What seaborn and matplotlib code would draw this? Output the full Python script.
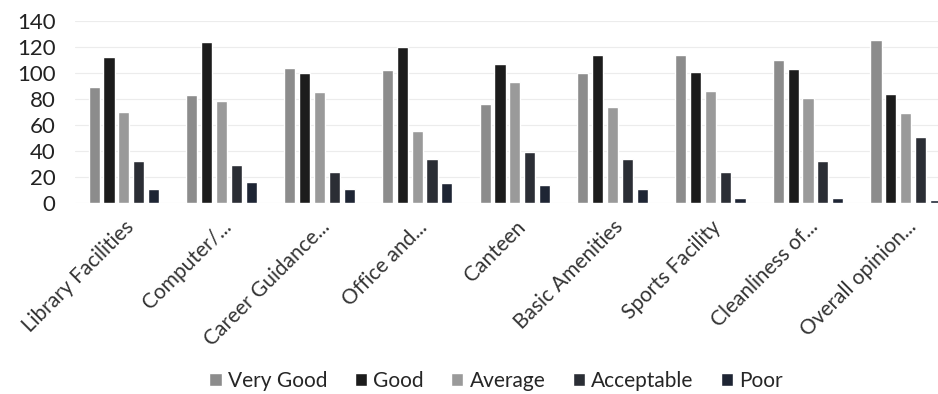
import pandas as pd
import matplotlib.pyplot as plt
import seaborn as sns

# 数据
categories = ['Library Facilities', 'Computer/...', 'Career Guidance...', 'Office and...',
              'Canteen', 'Basic Amenities', 'Sports Facility', 'Cleanliness of...',
              'Overall opinion...']
very_good = [89, 83, 104, 102, 76, 100, 114, 110, 125]
good = [112, 124, 100, 120, 107, 114, 101, 103, 84]
average = [70, 78, 85, 55, 93, 74, 86, 81, 69]
acceptable = [32, 29, 24, 34, 39, 34, 24, 32, 51]
poor = [11, 16, 11, 15, 14, 11, 4, 4, 2]
series_names = ['Very Good', 'Good', 'Average', 'Acceptable', 'Poor']

df = pd.DataFrame({'Very Good': very_good, 'Good': good, 'Average': average,
                   'Acceptable': acceptable, 'Poor': poor}, index=categories)
long_df = df.reset_index().melt(id_vars='index', var_name='Rating', value_name='Count')
long_df = long_df.rename(columns={'index': 'Item'})

sns.set_style('white')
plt.rcParams['font.family'] = ['Lato', 'DejaVu Sans']

palette = ['#8c8c8c', '#1c1c1c', '#9a9a9a', '#2b2e35', '#1e2534']

fig = plt.figure(figsize=(9.38, 3.94), dpi=100)
ax = fig.add_axes([0.08, 0.485, 0.92, 0.462])
sns.barplot(data=long_df, x='Item', y='Count', hue='Rating', hue_order=series_names,
            palette=palette, width=0.76, gap=0.25, ax=ax, saturation=1)

ax.set_ylim(0, 140)
ax.set_yticks(range(0, 141, 20))
ax.set_xlim(-0.5, 8.33)
ax.yaxis.grid(True, color='#ececec', linewidth=0.8)
ax.set_axisbelow(True)
for s in ax.spines.values():
    s.set_visible(False)
ax.set_xlabel('')
ax.set_ylabel('')
ax.yaxis.set_tick_params(labelsize=16, pad=14, length=0)
ax.xaxis.set_tick_params(length=0, pad=10)
plt.setp(ax.get_xticklabels(), rotation=45, ha='right', rotation_mode='anchor',
         fontsize=15, color='#333333')
plt.setp(ax.get_yticklabels(), color='#222222')

ax.legend(loc='upper center', bbox_to_anchor=(0.488, -0.82), ncol=5, frameon=False,
          fontsize=15, handlelength=0.6, handleheight=0.6, handletextpad=0.3,
          columnspacing=1.3)

plt.savefig('out.png', dpi=100)
